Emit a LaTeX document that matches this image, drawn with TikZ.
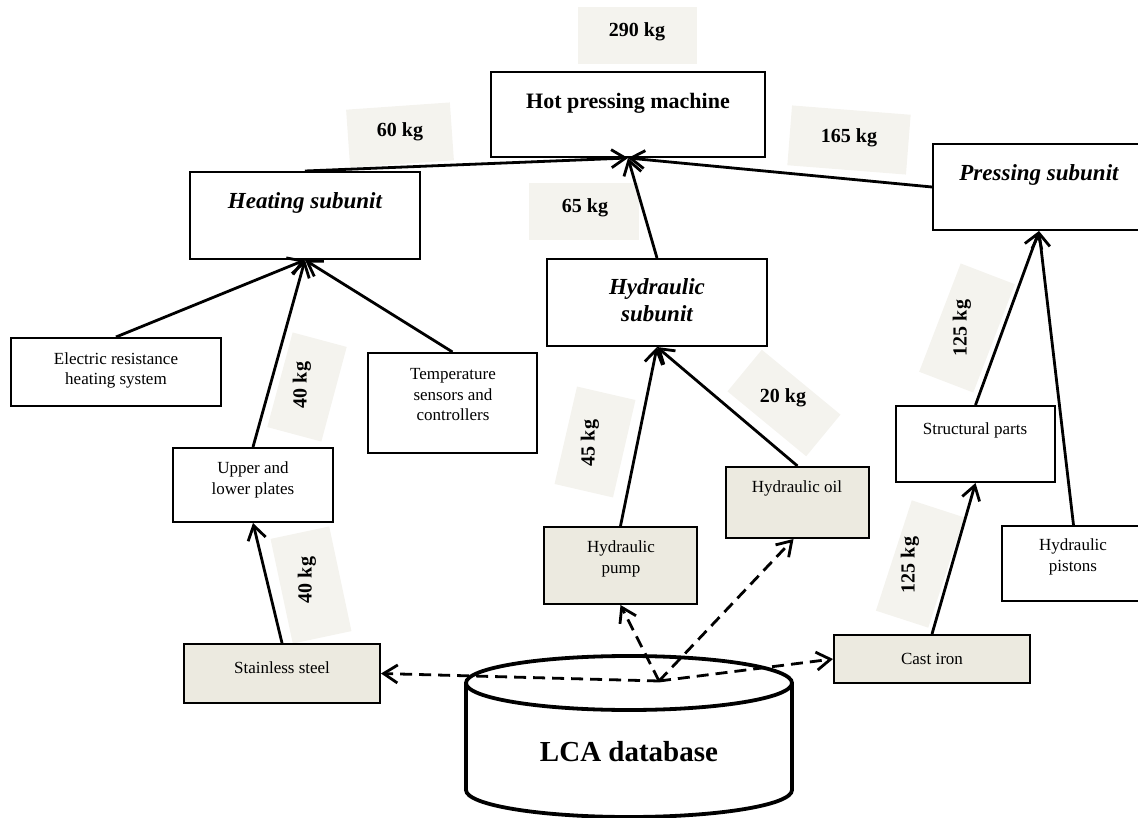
\documentclass[tikz,border=0pt]{standalone}
\usepackage{fontspec}
\setmainfont{Liberation Serif}
\usetikzlibrary{arrows.meta,calc}
\definecolor{matfill}{RGB}{236,234,224}
\definecolor{labfill}{RGB}{244,243,238}
\begin{document}
\begin{tikzpicture}[x=1pt,y=-1pt,
  box/.style={draw=black, line width=2pt, fill=white, inner sep=0pt},
  mat/.style={box, fill=matfill},
  lab/.style={fill=labfill, inner sep=0pt},
  small/.style={font=\fontsize{17}{20.5}\selectfont, align=center, inner sep=0pt},
  sub/.style={font=\fontsize{23}{27}\selectfont\bfseries\itshape, align=center, inner sep=0pt},
  head/.style={font=\fontsize{22}{26}\selectfont\bfseries, inner sep=0pt},
  kg/.style={font=\fontsize{20}{24}\selectfont\bfseries, inner sep=0pt},
  conn/.style={line width=2.8pt, -{Straight Barb[length=14pt,width=18pt]}},
  dconn/.style={line width=2.8pt, dash pattern=on 12pt off 7pt, -{Straight Barb[length=14pt,width=18pt]}},
]
\useasboundingbox (0,0) rectangle (1138,818);

% weight label backgrounds
\node[lab, minimum width=119pt, minimum height=57pt] (b290) at (637.5,35.5) {};
\node[lab, minimum width=104pt, minimum height=58pt, rotate=4] (b60) at (400,135) {};
\node[lab, minimum width=119pt, minimum height=60pt, rotate=-4.5] (b165) at (849,140) {};
\node[lab, minimum width=110pt, minimum height=57pt] (b65) at (584,211.5) {};
\node[lab, minimum width=98pt, minimum height=56pt, rotate=75] (b40a) at (307,387) {};
\node[lab, minimum width=107pt, minimum height=60pt, rotate=102] (b40b) at (311,585) {};
\node[lab, minimum width=100pt, minimum height=60pt, rotate=77] (b45) at (595,442) {};
\node[lab, minimum width=102pt, minimum height=54pt, rotate=-39.5] (b20) at (784,403) {};
\node[lab, minimum width=116pt, minimum height=58pt, rotate=69] (b125a) at (967,328) {};
\node[lab, minimum width=116pt, minimum height=55pt, rotate=72] (b125b) at (920,564) {};

% boxes
\node[box, minimum width=274pt, minimum height=85pt] (hot) at (628,114.5) {};
\node[box, minimum width=230pt, minimum height=87pt] (heat) at (305,215.5) {};
\node[box, minimum width=212pt, minimum height=86pt] (press) at (1039,187) {};
\node[box, minimum width=220pt, minimum height=87pt] (hyd) at (657,302.5) {};
\node[box, minimum width=210pt, minimum height=68pt] (elec) at (116,372) {};
\node[box, minimum width=169pt, minimum height=100pt] (temp) at (452.5,403) {};
\node[box, minimum width=160pt, minimum height=74pt] (plates) at (253,485) {};
\node[mat, minimum width=196pt, minimum height=59pt] (steel) at (282,673.5) {};
\node[mat, minimum width=153pt, minimum height=77pt] (pump) at (620.5,565.5) {};
\node[mat, minimum width=143pt, minimum height=71pt] (oil) at (797.5,502.5) {};
\node[box, minimum width=159pt, minimum height=76pt] (struct) at (975.5,444) {};
\node[box, minimum width=143pt, minimum height=75pt] (pist) at (1073.5,563.5) {};
\node[mat, minimum width=196pt, minimum height=48pt] (cast) at (932,659) {};

% texts
\node[head] (thot) at (628,103) {Hot pressing machine};
\node[sub] (theat) at (305,203) {Heating subunit};
\node[sub] (tpress) at (1039,175) {Pressing subunit};
\node[sub] (thyd) at (657,300) {Hydraulic\\subunit};
\node[small] (telec) at (116,370.5) {Electric resistance\\heating system};
\node[small] (ttemp) at (453,395) {Temperature\\sensors and\\controllers};
\node[small] (tplates) at (253,480) {Upper and\\lower plates};
\node[small] (tsteel) at (282,668) {Stainless steel};
\node[small] (tpump) at (621,559) {Hydraulic\\pump};
\node[small] (toil) at (797,488) {Hydraulic oil};
\node[small] (tstruct) at (975,430) {Structural parts};
\node[small] (tpist) at (1073,557) {Hydraulic\\pistons};
\node[small] (tcast) at (932,659) {Cast iron};

% weight texts
\node[kg] (k290) at (637,32) {290 kg};
\node[kg] (k60) at (400,132) {60 kg};
\node[kg] (k165) at (849,138) {165 kg};
\node[kg] (k65) at (585,208) {65 kg};
\node[kg, rotate=90] (k40a) at (302,385) {40 kg};
\node[kg, rotate=90] (k40b) at (307,580) {40 kg};
\node[kg, rotate=90] (k45) at (590,443) {45 kg};
\node[kg] (k20) at (783,398) {20 kg};
\node[kg, rotate=90] (k125a) at (962,328) {125 kg};
\node[kg, rotate=90] (k125b) at (910,565) {125 kg};

% connectors
\draw[conn] (heat.north) -- (hot.south);
\draw[conn] (press.west) -- (hot.south);
\draw[conn] (hyd.north) -- (hot.south);
\draw[conn] (elec.north) -- (heat.south);
\draw[conn] (plates.north) -- (heat.south);
\draw[conn] (temp.north) -- (heat.south);
\draw[conn] (steel.north) -- (plates.south);
\draw[conn] (pump.north) -- (hyd.south);
\draw[conn] (oil.north) -- (hyd.south);
\draw[conn] (struct.north) -- (press.south);
\draw[conn] (pist.north) -- (press.south);
\draw[conn] (cast.north) -- (struct.south);

% database
\fill[white] (466,683) -- (466,790) arc[start angle=180, end angle=360, x radius=163pt, y radius=27pt] -- (792,683) arc[start angle=0, end angle=180, x radius=163pt, y radius=27pt] -- cycle;
\draw[line width=3.8pt] (466,683) -- (466,790) arc[start angle=180, end angle=360, x radius=163pt, y radius=27pt] -- (792,683);
\draw[line width=3.8pt] (629,683) ellipse [x radius=163pt, y radius=27pt];
\node[font=\fontsize{29}{34}\selectfont\bfseries, inner sep=0pt] (lca) at (629,752) {LCA database};

\coordinate (hub) at (659,681);
\draw[dconn] (hub) -- (steel.east);
\draw[dconn] (hub) -- (pump.south);
\draw[dconn] (hub) -- ($(oil.south)+(-4,0)$);
\draw[dconn] (hub) -- (cast.west);
\end{tikzpicture}
\end{document}
